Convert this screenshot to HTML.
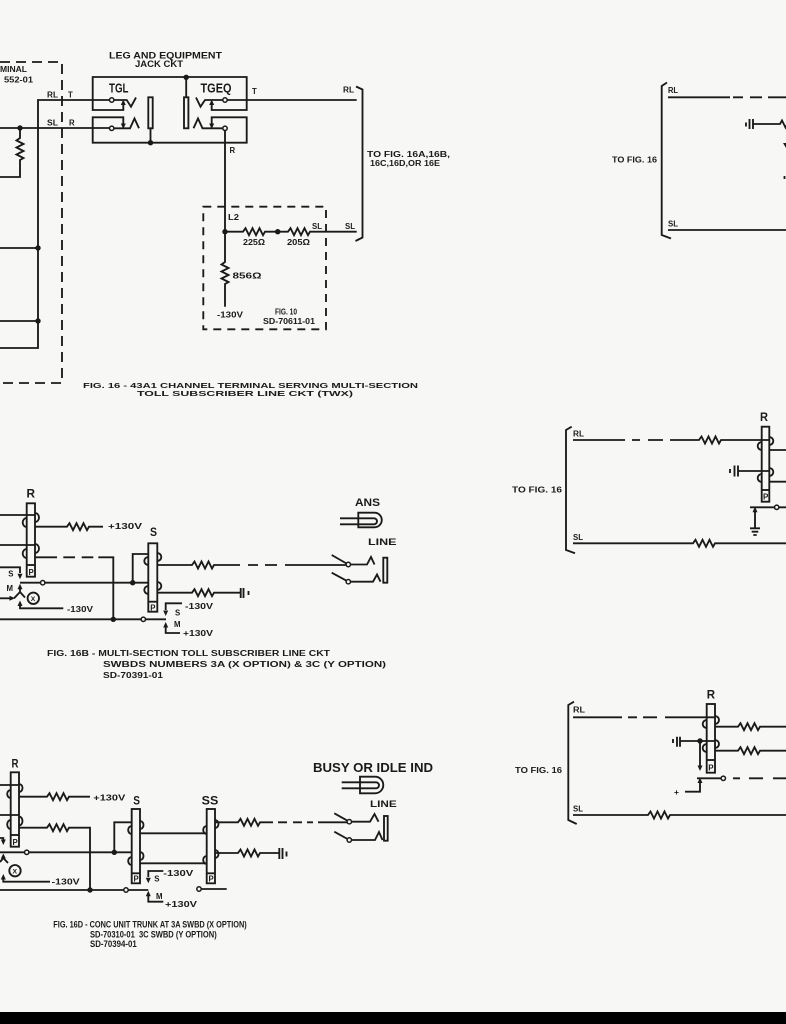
<!DOCTYPE html>
<html><head><meta charset="utf-8"><style>
html,body{margin:0;padding:0;background:#f7f7f5;}
svg{display:block}
text{font-family:"Liberation Sans",sans-serif;font-weight:bold;fill:#1a1a1a}
</style></head><body>
<svg width="786" height="1024" viewBox="0 0 786 1024" xmlns="http://www.w3.org/2000/svg">
<rect width="786" height="1024" fill="#f7f7f5"/>
<rect y="1012" width="786" height="12" fill="#000"/>

<g stroke="#1a1a1a" stroke-width="1.85" fill="none">
<!-- TOP LEFT dashed box -->
<path d="M0 62 H62 V383 H0" stroke-dasharray="10 6"/>
<path d="M0 348 H38 V100 H109.5"/>
<path d="M0 248 H38 M0 321 H38"/>
<path d="M0 128 H109.5"/>
<path d="M20 128 V138 l-3.5 2.5 l7 3.5 l-7 3.5 l7 3.5 l-7 3.5 l7 3.5 l-3.5 2 V177 H0"/>

<!-- TGL / TGEQ -->
<path d="M123.3 104 V110 H92.7 V77 H246.7 V110 H211.7 V104"/>
<path d="M123.3 124 V117.3 H92.7 V142.7 H246.7 V117.3 H211.7 V124"/>
<path d="M113.9 100 H126.7 L131 106.7 L136 97.5"/>
<path d="M113.9 128.3 H130 L134.5 118.5 L139 128.3"/>
<rect x="148.3" y="97.3" width="4.4" height="31"/>
<path d="M150.5 128.3 V142.7"/>
<rect x="184" y="97.3" width="4.4" height="31"/>
<path d="M186.2 77.3 V97.3"/>
<path d="M222.8 100 H205 L200.5 106.7 L196 97.5"/>
<path d="M222.8 128.3 H202.5 L198 118.5 L193.5 128.3"/>
<path d="M227.2 100 H356.7"/>
<path d="M225 130.5 V262 l-3.5 2.5 l7 3.5 l-7 3.5 l7 3.5 l-7 3.5 l7 3.5 l-3.5 2 V306.7"/>
<path d="M225 231.7 H243 l2.5 -3.5 l3.5 7 l3.5 -7 l3.5 7 l3.5 -7 l3.5 7 l2 -3.5 H288 l2.5 -3.5 l3.5 7 l3.5 -7 l3.5 7 l3.5 -7 l3.5 7 l2 -3.5 H356.7"/>
<rect x="203.3" y="206.7" width="122.7" height="122.6" stroke-dasharray="8 6"/>
<path d="M356 86.5 L362.5 89.5 V237.5 L355.5 241"/>

<!-- TOP RIGHT -->
<path d="M667 82.5 L661.7 86 V235 L671 238.5"/>
<path d="M668 97.3 H730 M733 97.3 H743 M750 97.3 H762 M768 97.3 H786"/>
<path d="M746 122.5 V126.5 M749.5 119 V129 M753 119 V129 M753 124 H780 l2 -3.5 l3.5 7 l1 -2"/>
<path d="M668 230 H786"/>
<path d="M784.5 176 V179"/>

<!-- MID RIGHT -->
<path d="M571.7 426.7 L566 430 V550 L575 553.3"/>
<path d="M573 440 H625 M632 440 H640 M648 440 H663"/>
<path d="M670 440 H699 l2.5 -3.5 l3.5 7 l3.5 -7 l3.5 7 l3.5 -7 l3.5 7 l2 -3.5 H769.3"/>
<rect x="761.7" y="426.7" width="7.6" height="75"/>
<path d="M761.7 490 H769.3"/>
<path d="M769.3 437 a4 4 0 0 1 0 8 M761.7 442 a4 4 0 0 0 0 8 M769.3 450 H786"/>
<path d="M738 471 H769.3 M769.3 468 a4 4 0 0 1 0 8 M761.7 474 a4 4 0 0 0 0 8 M769.3 481.7 H786"/>
<path d="M730 469 V473 M734.5 465.5 V476.5 M738 465.5 V476.5"/>
<path d="M750 507.3 H774.5 M778.9 507.3 H786 M755 510 V528.3"/>
<path d="M750 528.3 H760 M751.7 531.7 H758.3 M753.3 535 H756.7"/>
<path d="M573 543.3 H693 l2.5 -3.5 l3.5 7 l3.5 -7 l3.5 7 l3.5 -7 l3.5 7 l2 -3.5 H786"/>

<!-- BOTTOM RIGHT -->
<path d="M574 701.7 L568.3 705 V820 L576.7 824"/>
<path d="M573 717.3 H622 M628 717.3 H637 M643 717.3 H657 M665 717.3 H715"/>
<rect x="706.7" y="704" width="8.3" height="68.7"/>
<path d="M706.7 760 H715"/>
<path d="M715 716 a4 4 0 0 1 0 8 M706.7 720 a4 4 0 0 0 0 8"/>
<path d="M715 726.7 H738 l2.5 -3.5 l3.5 7 l3.5 -7 l3.5 7 l3.5 -7 l3.5 7 l2 -3.5 H786"/>
<path d="M680 741 H715 M715 740 a4 4 0 0 1 0 8 M706.7 744 a4 4 0 0 0 0 8"/>
<path d="M715 750.7 H738 l2.5 -3.5 l3.5 7 l3.5 -7 l3.5 7 l3.5 -7 l3.5 7 l2 -3.5 H786"/>
<path d="M673 739 V743 M677 736.7 V746.7 M680 736.7 V746.7"/>
<path d="M700 741 V766"/>
<path d="M697 778.3 H721 M733 778.3 H740 M749 778.3 H763 M773 778.3 H786"/>
<path d="M685 791.7 H700 V782"/>
<path d="M573 815 H648 l2.5 -3.5 l3.5 7 l3.5 -7 l3.5 7 l3.5 -7 l3.5 7 l2 -3.5 H786"/>

<!-- MID LEFT (16B) -->
<rect x="26.7" y="503.3" width="8.3" height="73.4"/>
<path d="M26.7 565 H35"/>
<path d="M0 515 H35 M35 513 a4 4.5 0 0 1 0 9 M26.7 518 a4 4.5 0 0 0 0 9"/>
<path d="M35 526.7 H67 l2.5 -3.5 l3.5 7 l3.5 -7 l3.5 7 l3.5 -7 l3.5 7 l2 -3.5 H103"/>
<path d="M0 545 H35 M35 544 a4 4.5 0 0 1 0 9 M26.7 549 a4 4.5 0 0 0 0 9"/>
<path d="M35 557.3 H57 M63.3 557.3 H75 M81.7 557.3 H93.3 M98.3 557.3 H113.3 V619.3"/>
<path d="M0 567.3 H20 V573"/>
<path d="M20 582.7 H40.5 M44.9 582.7 H148.3 M132.7 582.7 V554 H148.3"/>
<path d="M20 589 V592 M20 592 L14 598.3 M20 592 L25 597.5"/>
<path d="M0 598.3 H10"/>
<path d="M20 604 V608.3 H63.3"/>
<circle cx="33.3" cy="598.3" r="5.7"/>
<path d="M0 619.3 H141.1 M145.5 619.3 H166"/>
<path d="M182 603.3 H165.7 V610 M180 633 H165.7 V627"/>
<rect x="148.3" y="543.3" width="9" height="68.4"/>
<path d="M148.3 601.7 H157.3"/>
<path d="M157.3 553 a4 4 0 0 1 0 8 M148.3 557 a4 4 0 0 0 0 8"/>
<path d="M157.3 565 H192 l2.5 -3.5 l3.5 7 l3.5 -7 l3.5 7 l3.5 -7 l3.5 7 l2 -3.5 H240"/>
<path d="M248 565 H258 M265 565 H277 M285 565 H346.1"/>
<path d="M157.3 582 a4 4 0 0 1 0 8 M148.3 586 a4 4 0 0 0 0 8"/>
<path d="M157.3 592.7 H192 l2.5 -3.5 l3.5 7 l3.5 -7 l3.5 7 l3.5 -7 l3.5 7 l2 -3.5 H240.7"/>
<path d="M240.7 588 V598 M243.5 588 V598 M248.5 591 V595"/>
<path d="M331.7 555 L346.5 563.5 M350.5 564.5 H367 L371 557 L374.5 564.5"/>
<rect x="383.3" y="557.7" width="4" height="25"/>
<path d="M331.7 572.7 L346.5 580.7 M350.5 581.7 H373 L377 574.5 L380.5 581.7"/>
<path d="M340 518.3 H358.3 M340 524.3 H358.3"/>
<path d="M358.3 512.7 H374.5 A7.3 7.3 0 0 1 374.5 527.3 H358.3 Z"/>
<path d="M358.3 518.3 H374 A3 3 0 0 1 374 524.3 H358.3"/>

<!-- BOTTOM LEFT (16D) -->
<rect x="10.7" y="772.3" width="8.3" height="74.4"/>
<path d="M10.7 835 H19"/>
<path d="M0 785 H19 M19 784 a3.5 4 0 0 1 0 8 M10.7 790 a3.5 4 0 0 0 0 8"/>
<path d="M19 796.7 H47 l2.5 -3.5 l3.5 7 l3.5 -7 l3.5 7 l3.5 -7 l3.5 7 l2 -3.5 H90"/>
<path d="M0 815 H19 M19 816.5 a3.5 4.5 0 0 1 0 9 M10.7 820 a3.5 4.5 0 0 0 0 9"/>
<path d="M19 827.7 H47 l2.5 -3.5 l3.5 7 l3.5 -7 l3.5 7 l3.5 -7 l3.5 7 l2 -3.5 H90 V890"/>
<path d="M0 838 H3.3 V840"/>
<path d="M0 852.3 H24.5 M28.9 852.3 H131.7 M114.3 852.3 V822.3 H131.7"/>
<path d="M3.3 858 L0 862 M3.3 858 L8 863"/>
<circle cx="15" cy="870.7" r="5.7"/>
<path d="M3.3 879 V881.7 H50"/>
<path d="M0 890 H123.8 M128.2 890 H148.3"/>
<rect x="131.7" y="809" width="8.3" height="74.3"/>
<path d="M131.7 873.3 H140"/>
<path d="M140 821 a3.5 4 0 0 1 0 8 M131.7 826 a3.5 4 0 0 0 0 8 M140 833.3 H206.7"/>
<path d="M140 852 a3.5 4 0 0 1 0 8 M131.7 857 a3.5 4 0 0 0 0 8 M140 863.3 H206.7"/>
<rect x="206.7" y="809" width="8.3" height="74.3"/>
<path d="M206.7 873.3 H215"/>
<path d="M215 820 a3.5 4 0 0 1 0 8 M206.7 826 a3.5 4 0 0 0 0 8"/>
<path d="M215 822.3 H238 l2.5 -3.5 l3.5 7 l3.5 -7 l3.5 7 l3.5 -7 l3.5 7 l2 -3.5 H273"/>
<path d="M278 822.3 H287 M293 822.3 H302 M307 822.3 H313 M318 822.3 H347.1"/>
<path d="M215 850 a3.5 4 0 0 1 0 8 M206.7 856 a3.5 4 0 0 0 0 8"/>
<path d="M215 853 H238 l2.5 -3.5 l3.5 7 l3.5 -7 l3.5 7 l3.5 -7 l3.5 7 l2 -3.5 H279.3"/>
<path d="M279.3 848 V859 M282.5 848 V859 M286.5 851.5 V856.5"/>
<path d="M163.3 871 H148.3 V877 M148.3 896 V901.7 H163.3"/>
<path d="M201.2 889 H226.7"/>
<path d="M334.3 813.3 L347.5 820.7 M351.5 821.7 H370 L374.5 814 L378.5 821.7"/>
<rect x="384" y="816" width="3.7" height="24.7"/>
<path d="M334.3 831.7 L347.5 839 M351.5 840 H375 L379 832 L382.5 840"/>
<path d="M341.7 782.3 H360 M341.7 788.3 H360"/>
<path d="M360 776.7 H375 A8.3 8.3 0 0 1 375 793.3 H360 Z"/>
<path d="M360 782.3 H376 A3 3 0 0 1 376 788.3 H360"/>
</g>

<!-- open circles -->
<g stroke="#1a1a1a" stroke-width="1.5" fill="#f7f7f5">
<circle cx="111.7" cy="100" r="2.2"/>
<circle cx="111.7" cy="128.3" r="2.2"/>
<circle cx="225" cy="100" r="2.2"/>
<circle cx="225" cy="128.3" r="2.2"/>
<circle cx="776.7" cy="507.3" r="2.2"/>
<circle cx="723.3" cy="778.3" r="2.2"/>
<circle cx="42.7" cy="582.7" r="2.2"/>
<circle cx="143.3" cy="619.3" r="2.2"/>
<circle cx="348.3" cy="564.5" r="2.2"/>
<circle cx="348.3" cy="581.7" r="2.2"/>
<circle cx="26.7" cy="852.3" r="2.2"/>
<circle cx="126" cy="890" r="2.2"/>
<circle cx="199" cy="889" r="2.2"/>
<circle cx="349.3" cy="821.7" r="2.2"/>
<circle cx="349.3" cy="840" r="2.2"/>
</g>

<!-- dots & arrows -->
<g fill="#1a1a1a">
<circle cx="38" cy="248" r="2.7"/>
<circle cx="38" cy="321" r="2.7"/>
<circle cx="20" cy="128" r="2.7"/>
<circle cx="186.2" cy="77.3" r="2.7"/>
<circle cx="150.5" cy="142.7" r="2.7"/>
<circle cx="225" cy="231.7" r="2.7"/>
<circle cx="277.7" cy="231.7" r="2.7"/>
<circle cx="700" cy="741" r="2.7"/>
<circle cx="132.7" cy="582.7" r="2.7"/>
<circle cx="113.3" cy="619.3" r="2.7"/>
<circle cx="114.3" cy="852.3" r="2.7"/>
<circle cx="90" cy="890" r="2.7"/>
<polygon points="123.3,99.5 120.8,105 125.8,105"/>
<polygon points="211.7,99.5 209.2,105 214.2,105"/>
<polygon points="123.3,129 120.8,123.5 125.8,123.5"/>
<polygon points="211.7,129 209.2,123.5 214.2,123.5"/>
<polygon points="783,143 786,143 786,148"/>
<polygon points="755,506.7 752.5,512.2 757.5,512.2"/>
<polygon points="700,771 697.5,765.5 702.5,765.5"/>
<polygon points="700,777.5 697.5,783 702.5,783"/>
<polygon points="20,579.3 17.5,573.8 22.5,573.8"/>
<polygon points="20,583.8 17.5,589.3 22.5,589.3"/>
<polygon points="15,598.3 9.5,595.8 9.5,600.8"/>
<polygon points="20,600.5 17.5,606 22.5,606"/>
<polygon points="165.7,616 163.2,610.5 168.2,610.5"/>
<polygon points="165.7,622 163.2,627.5 168.2,627.5"/>
<polygon points="3.3,845 0.8,839.5 5.8,839.5"/>
<polygon points="3.3,853.5 0.8,858.5 5.8,858.5"/>
<polygon points="3.3,874 0.8,879.5 5.8,879.5"/>
<polygon points="148.3,883.3 145.8,877.8 150.8,877.8"/>
<polygon points="148.3,890.7 145.8,896.2 150.8,896.2"/>
</g>

<!-- TEXT -->
<g font-size="7.8">
<text x="0" y="72" font-size="8.2" textLength="27" lengthAdjust="spacingAndGlyphs">MINAL</text>
<text x="4" y="82.5" font-size="8.2" textLength="29" lengthAdjust="spacingAndGlyphs">552-01</text>
<text x="47" y="97.5" textLength="11" lengthAdjust="spacingAndGlyphs">RL</text>
<text x="68" y="97.5">T</text>
<text x="47" y="125.5" textLength="11" lengthAdjust="spacingAndGlyphs">SL</text>
<text x="69" y="125.5">R</text>
<text x="109" y="58.5" font-size="8.8" textLength="113" lengthAdjust="spacingAndGlyphs">LEG AND EQUIPMENT</text>
<text x="135" y="66.8" font-size="8.8" textLength="48" lengthAdjust="spacingAndGlyphs">JACK CKT</text>
<text x="109" y="92.7" font-size="13" textLength="19.5" lengthAdjust="spacingAndGlyphs">TGL</text>
<text x="200.5" y="92.7" font-size="13" textLength="31" lengthAdjust="spacingAndGlyphs">TGEQ</text>
<text x="252" y="94">T</text>
<text x="343" y="92.5" textLength="11" lengthAdjust="spacingAndGlyphs">RL</text>
<text x="229.5" y="153">R</text>
<text x="228" y="220" textLength="11" lengthAdjust="spacingAndGlyphs">L2</text>
<text x="243" y="244.8" font-size="8.2" textLength="22" lengthAdjust="spacingAndGlyphs">225Ω</text>
<text x="287" y="244.8" font-size="8.2" textLength="23" lengthAdjust="spacingAndGlyphs">205Ω</text>
<text x="312" y="229" textLength="10" lengthAdjust="spacingAndGlyphs">SL</text>
<text x="345" y="229" textLength="10" lengthAdjust="spacingAndGlyphs">SL</text>
<text x="232.5" y="278.3" font-size="8.5" textLength="29" lengthAdjust="spacingAndGlyphs">856Ω</text>
<text x="217" y="317.3" font-size="8.3" textLength="26" lengthAdjust="spacingAndGlyphs">-130V</text>
<text x="275" y="314.3" font-size="8" textLength="22" lengthAdjust="spacingAndGlyphs">FIG. 10</text>
<text x="263" y="323.8" font-size="8" textLength="52" lengthAdjust="spacingAndGlyphs">SD-70611-01</text>
<text x="367" y="156.8" textLength="83" lengthAdjust="spacingAndGlyphs">TO FIG. 16A,16B,</text>
<text x="370" y="165.8" textLength="70" lengthAdjust="spacingAndGlyphs">16C,16D,OR 16E</text>
<text x="83" y="387.8" font-size="7.3" textLength="335" lengthAdjust="spacingAndGlyphs">FIG. 16 - 43A1 CHANNEL TERMINAL SERVING MULTI-SECTION</text>
<text x="137" y="396" font-size="7.3" textLength="216" lengthAdjust="spacingAndGlyphs">TOLL SUBSCRIBER LINE CKT (TWX)</text>

<text x="668" y="93" textLength="10" lengthAdjust="spacingAndGlyphs">RL</text>
<text x="612" y="162.5" textLength="45" lengthAdjust="spacingAndGlyphs">TO FIG. 16</text>
<text x="668" y="226.5" textLength="10" lengthAdjust="spacingAndGlyphs">SL</text>

<text x="760" y="421" font-size="11.5" textLength="8" lengthAdjust="spacingAndGlyphs">R</text>
<text x="573" y="436.5" textLength="11" lengthAdjust="spacingAndGlyphs">RL</text>
<text x="573" y="540" textLength="10" lengthAdjust="spacingAndGlyphs">SL</text>
<text x="512" y="492.5" textLength="50" lengthAdjust="spacingAndGlyphs">TO FIG. 16</text>
<text x="763" y="499.5" font-size="8">P</text>

<text x="706.7" y="698.3" font-size="11.5" textLength="8.3" lengthAdjust="spacingAndGlyphs">R</text>
<text x="573" y="712.5" textLength="12" lengthAdjust="spacingAndGlyphs">RL</text>
<text x="573" y="811.7" textLength="10" lengthAdjust="spacingAndGlyphs">SL</text>
<text x="515" y="773" textLength="47" lengthAdjust="spacingAndGlyphs">TO FIG. 16</text>
<text x="674" y="795" font-size="8.5">+</text>
<text x="708.3" y="770.5" font-size="8">P</text>

<text x="26.5" y="497.5" font-size="11.5" textLength="8.5" lengthAdjust="spacingAndGlyphs">R</text>
<text x="108" y="528.8" font-size="8.3" textLength="34" lengthAdjust="spacingAndGlyphs">+130V</text>
<text x="8.3" y="576.5">S</text>
<text x="6.5" y="591">M</text>
<text x="30.8" y="601" font-size="6.8">X</text>
<text x="67" y="611.8" font-size="8.3" textLength="26" lengthAdjust="spacingAndGlyphs">-130V</text>
<text x="150" y="536" font-size="11.5" textLength="7" lengthAdjust="spacingAndGlyphs">S</text>
<text x="28.5" y="575" font-size="7.8">P</text>
<text x="150.3" y="610.5" font-size="7.8">P</text>
<text x="185" y="608.8" font-size="8.3" textLength="28" lengthAdjust="spacingAndGlyphs">-130V</text>
<text x="175" y="615.5">S</text>
<text x="174" y="627">M</text>
<text x="183" y="636" font-size="8.3" textLength="30" lengthAdjust="spacingAndGlyphs">+130V</text>
<text x="355" y="506" font-size="11" textLength="25" lengthAdjust="spacingAndGlyphs">ANS</text>
<text x="368" y="545" font-size="9.5" textLength="28.5" lengthAdjust="spacingAndGlyphs">LINE</text>
<text x="47" y="655.8" font-size="7.8" textLength="283" lengthAdjust="spacingAndGlyphs">FIG. 16B - MULTI-SECTION TOLL SUBSCRIBER LINE CKT</text>
<text x="103" y="666.8" font-size="7.8" textLength="283" lengthAdjust="spacingAndGlyphs">SWBDS NUMBERS 3A (X OPTION) &amp; 3C (Y OPTION)</text>
<text x="103" y="677.8" font-size="7.8" textLength="60" lengthAdjust="spacingAndGlyphs">SD-70391-01</text>

<text x="11.5" y="767.7" font-size="11.5" textLength="7" lengthAdjust="spacingAndGlyphs">R</text>
<text x="93.3" y="800.3" font-size="8.3" textLength="32" lengthAdjust="spacingAndGlyphs">+130V</text>
<text x="12.5" y="845" font-size="7.8">P</text>
<text x="12.5" y="873.5" font-size="6.8">X</text>
<text x="51.7" y="884.5" font-size="8.3" textLength="28" lengthAdjust="spacingAndGlyphs">-130V</text>
<text x="133.3" y="804.3" font-size="11.5" textLength="6.7" lengthAdjust="spacingAndGlyphs">S</text>
<text x="201.7" y="804.3" font-size="11.5" textLength="16.6" lengthAdjust="spacingAndGlyphs">SS</text>
<text x="133.5" y="881.5" font-size="7.8">P</text>
<text x="208.5" y="881.5" font-size="7.8">P</text>
<text x="163.3" y="876.2" font-size="8.3" textLength="30" lengthAdjust="spacingAndGlyphs">-130V</text>
<text x="154.3" y="881.7">S</text>
<text x="156" y="899">M</text>
<text x="165" y="907" font-size="8.3" textLength="32" lengthAdjust="spacingAndGlyphs">+130V</text>
<text x="313" y="771.9" font-size="12.5" textLength="120" lengthAdjust="spacingAndGlyphs">BUSY OR IDLE IND</text>
<text x="370" y="806.9" font-size="9.5" textLength="26.7" lengthAdjust="spacingAndGlyphs">LINE</text>
<text x="53.3" y="927.5" font-size="9" textLength="193.4" lengthAdjust="spacingAndGlyphs">FIG. 16D - CONC UNIT TRUNK AT 3A SWBD (X OPTION)</text>
<text x="90" y="937.5" font-size="9" textLength="126.7" lengthAdjust="spacingAndGlyphs">SD-70310-01&#160;&#160;3C SWBD (Y OPTION)</text>
<text x="90" y="946.9" font-size="9" textLength="46.7" lengthAdjust="spacingAndGlyphs">SD-70394-01</text>
</g>
</svg>
</body></html>
